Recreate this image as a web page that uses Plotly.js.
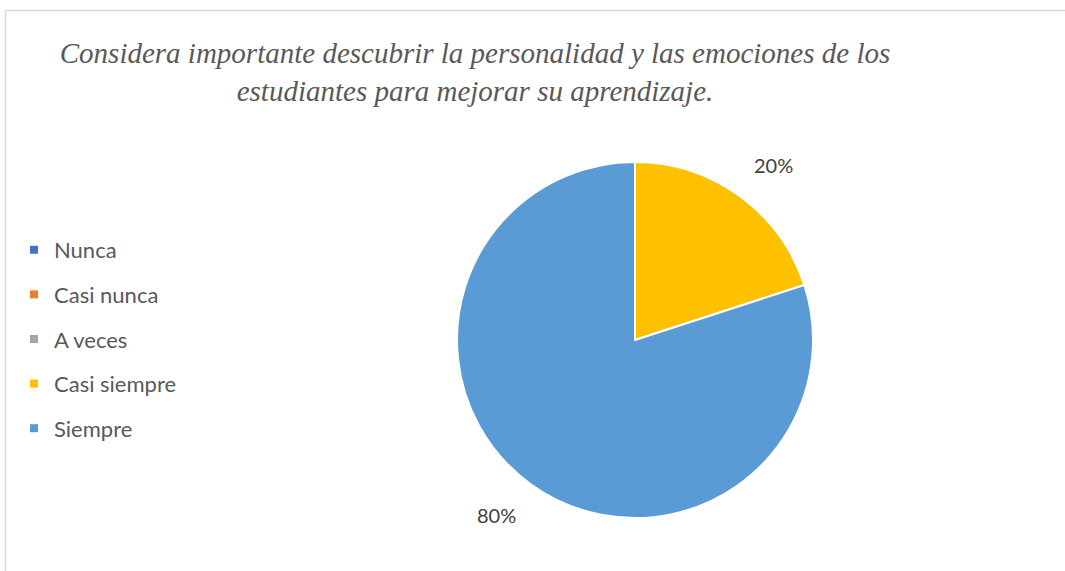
<!DOCTYPE html>
<html>
<head>
<meta charset="utf-8">
<script src="https://cdn.plot.ly/plotly-3.0.1.min.js"></script>
<style>html,body{margin:0;padding:0;background:#fff;}#chart{width:1065px;height:571px;}</style>
</head>
<body>
<div id="chart"></div>
<script>
const categories = ["Nunca", "Casi nunca", "A veces", "Casi siempre", "Siempre"];
const values = [0, 0, 0, 20, 80];
const colors = ["#4472C4", "#ED7D31", "#A5A5A5", "#FFC000", "#5B9BD5"];
const titleText = "Considera importante descubrir la personalidad y las emociones de los<br>estudiantes para mejorar su aprendizaje.";

// pie geometry (paper domain)
const pieDomain = {x: [0.4291, 0.7634], y: [0.0928, 0.7163]};
const W = 1065, H = 571;

const pieTrace = {
  type: "pie",
  labels: categories,
  values: values,
  sort: false,
  direction: "clockwise",
  rotation: 0,
  marker: {colors: colors, line: {color: "#ffffff", width: 2}},
  textinfo: "none",
  domain: pieDomain,
  showlegend: false,
  hoverinfo: "label+percent"
};

const legendTraces = categories.map((c, i) => ({
  type: "scatter",
  mode: "markers",
  x: [null], y: [null],
  name: c,
  legendgroup: "g" + i,
  marker: {symbol: "square", size: 8, color: colors[i]},
  showlegend: true,
  hoverinfo: "skip"
}));

// percentage labels placed just outside each non-zero slice, derived from the values
const total = values.reduce((a, b) => a + b, 0);
const cx = (pieDomain.x[0] + pieDomain.x[1]) / 2 * W;
const cy = (1 - (pieDomain.y[0] + pieDomain.y[1]) / 2) * H;
const R = Math.min((pieDomain.x[1] - pieDomain.x[0]) * W, (pieDomain.y[1] - pieDomain.y[0]) * H) / 2;
const labelAnnotations = [];
let cum = 0;
values.forEach((v, i) => {
  if (v > 0) {
    const mid = (cum + v / 2) / total * 2 * Math.PI;
    const rr = R * 1.12;
    const s = Math.sin(mid), c = Math.cos(mid);
    labelAnnotations.push({
      xref: "paper", yref: "paper",
      x: (cx + rr * s) / W,
      y: 1 - (cy - rr * c) / H,
      xanchor: s >= 0 ? "left" : "right",
      yanchor: c >= 0 ? "bottom" : "top",
      text: Math.round(v / total * 100) + "%",
      showarrow: false,
      font: {family: "Lato, Open Sans, sans-serif", size: 20, color: "#404040"}
    });
  }
  cum += v;
});

const layout = {
  width: W, height: H,
  margin: {l: 0, r: 0, t: 0, b: 0},
  paper_bgcolor: "#ffffff",
  plot_bgcolor: "rgba(0,0,0,0)",
  xaxis: {visible: false}, yaxis: {visible: false},
  title: {
    text: titleText,
    font: {family: "Liberation Serif, Times New Roman, serif", size: 29, color: "#595959", style: "italic"},
    x: 475/W, xanchor: "center", xref: "container",
    y: 1 - 63/H, yanchor: "top", yref: "container"
  },
  showlegend: true,
  legend: {
    x: 14/W, xanchor: "left",
    y: 1 - 229/H, yanchor: "top",
    font: {family: "Lato, Open Sans, sans-serif", size: 22, color: "#595959"},
    tracegroupgap: 13,
    bgcolor: "rgba(0,0,0,0)"
  },
  annotations: labelAnnotations,
  shapes: [{
    type: "rect", xref: "paper", yref: "paper",
    x0: 5.5/W, x1: 1.01, y0: -0.02, y1: 1 - 10.5/H,
    line: {color: "#D9D9D9", width: 1.5}, fillcolor: "rgba(0,0,0,0)", layer: "below"
  }]
};

Plotly.newPlot("chart", [pieTrace].concat(legendTraces), layout, {displayModeBar: false, staticPlot: true});
</script>
</body>
</html>
